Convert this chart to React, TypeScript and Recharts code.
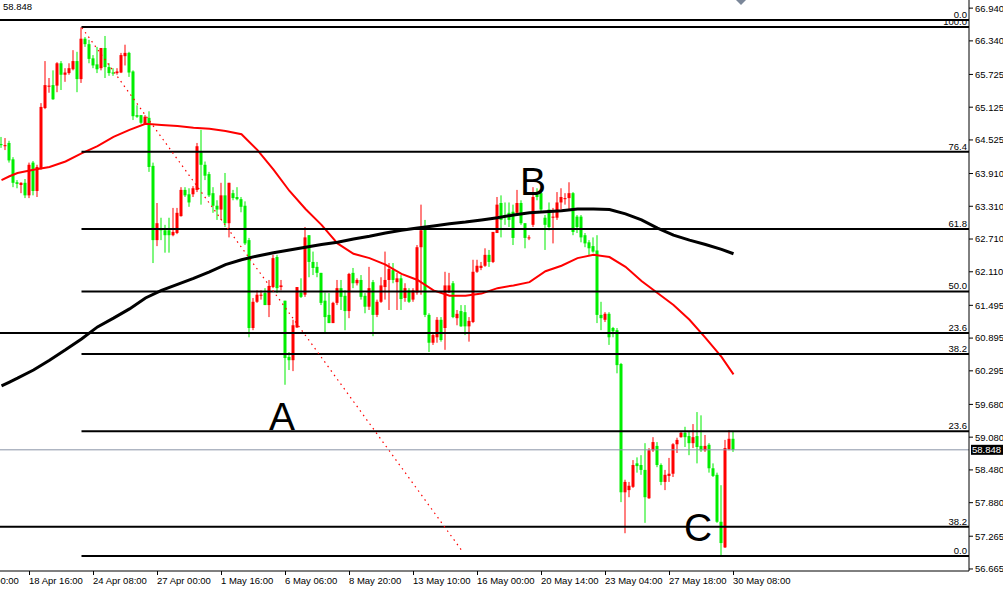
import React from "react";
import { ComposedChart, Bar, Line, XAxis, YAxis, ReferenceLine } from "recharts";

const FONT = "'Liberation Sans', Arial, sans-serif";

// H4 candles, index 0 = first bar on the left edge
const opens = [
  64.45, 64.41, 64.47, 64.17, 63.75, 63.70, 63.74, 63.51, 64.11, 63.59,
  64.01, 65.11, 65.50, 65.53, 65.52, 65.93, 65.72, 65.75, 65.82, 65.97,
  65.64, 66.38, 66.28, 66.02, 65.91, 65.84, 66.21, 65.86, 65.76, 65.75,
  65.76, 66.06, 66.12, 65.78, 64.98, 64.98, 64.82, 64.93, 64.05, 62.69,
  62.91, 62.87, 62.87, 62.78, 62.82, 63.13, 63.61, 63.53, 63.53, 63.61,
  64.30, 64.07, 63.90, 63.55, 63.32, 63.25, 63.51, 63.00, 63.55, 63.48,
  63.44, 63.32, 62.69, 61.08, 61.56, 61.67, 61.72, 61.50, 61.83, 62.38,
  61.83, 61.58, 60.55, 60.49, 61.09, 61.73, 61.69, 62.78, 62.29, 62.20,
  62.09, 61.58, 61.32, 61.17, 61.54, 61.81, 61.67, 61.39, 62.09, 61.90,
  61.96, 61.67, 61.47, 61.92, 61.32, 61.56, 61.83, 61.96, 62.14, 61.92,
  61.99, 61.63, 61.77, 61.60, 61.73, 62.56, 62.91, 61.32, 60.81, 60.91,
  61.23, 61.08, 61.73, 61.90, 61.26, 61.39, 61.37, 61.11, 61.19, 62.11,
  62.18, 62.22, 62.42, 62.29, 62.82, 63.37, 63.15, 63.19, 63.21, 63.19,
  63.37, 63.00, 62.73, 62.97, 63.57, 63.55, 63.10, 63.25, 63.10, 63.10,
  63.38, 63.44, 63.46, 63.55, 63.12, 63.12, 62.78, 62.65, 62.58, 62.50,
  61.32, 61.23, 61.34, 61.08, 61.04, 60.42, 58.07, 58.11, 58.17, 58.60,
  58.57, 58.48, 57.96, 58.84, 58.92, 58.57, 58.26, 58.37, 58.41, 58.95,
  59.08, 59.16, 59.10, 58.97, 59.10, 58.92, 58.84, 58.94, 58.51, 58.39,
  57.53, 57.06, 58.86, 59.05,
];
const highs = [
  64.58, 64.56, 64.51, 64.21, 63.79, 63.75, 63.81, 64.11, 64.14, 64.07,
  65.20, 65.97, 65.66, 65.80, 65.95, 65.97, 65.84, 65.93, 66.17, 66.14,
  66.59, 66.41, 66.36, 66.08, 66.23, 66.21, 66.43, 65.93, 65.84, 65.84,
  66.12, 66.27, 66.14, 65.80, 65.16, 64.98, 64.98, 65.05, 64.11, 63.37,
  63.10, 62.97, 63.10, 63.28, 63.28, 63.66, 63.66, 63.64, 63.68, 64.47,
  64.71, 64.13, 63.94, 63.66, 63.42, 63.74, 63.92, 63.74, 63.61, 63.66,
  63.48, 63.40, 62.73, 61.63, 61.77, 61.77, 61.81, 61.96, 62.42, 62.42,
  61.96, 61.58, 60.64, 61.23, 61.83, 61.99, 62.93, 62.78, 62.48, 62.29,
  62.09, 61.73, 61.72, 61.56, 61.96, 61.96, 61.77, 62.09, 62.18, 61.99,
  62.05, 61.72, 62.20, 61.96, 61.60, 62.01, 62.48, 62.27, 62.27, 62.09,
  62.05, 61.90, 61.81, 61.81, 62.60, 63.34, 63.06, 61.35, 60.98, 61.28,
  61.28, 62.11, 62.09, 61.94, 61.41, 61.50, 61.50, 61.28, 62.33, 62.33,
  62.29, 62.54, 62.51, 62.84, 63.48, 63.51, 63.38, 63.38, 63.34, 63.61,
  63.42, 63.00, 62.78, 63.66, 63.64, 63.61, 63.15, 63.38, 63.28, 63.57,
  63.64, 63.55, 63.75, 63.57, 63.15, 63.15, 62.82, 62.69, 62.74, 62.78,
  61.56, 61.37, 61.37, 61.10, 61.08, 60.44, 58.30, 58.26, 58.66, 58.71,
  58.75, 58.97, 58.88, 59.08, 58.99, 58.60, 58.48, 58.70, 58.97, 59.07,
  59.18, 59.27, 59.18, 59.32, 59.54, 59.48, 59.12, 58.97, 58.60, 58.43,
  58.20, 59.03, 59.21, 59.18,
];
const lows = [
  64.38, 64.34, 64.11, 63.66, 63.64, 63.55, 63.46, 63.46, 63.51, 63.48,
  63.98, 65.09, 65.39, 65.26, 65.40, 65.44, 65.59, 65.72, 65.80, 65.40,
  65.57, 66.23, 65.93, 65.84, 65.75, 65.80, 65.66, 65.70, 65.70, 65.72,
  65.75, 65.89, 65.68, 64.89, 64.93, 64.82, 64.80, 63.94, 62.27, 62.58,
  62.69, 62.46, 62.46, 62.76, 62.80, 63.12, 63.48, 63.30, 63.48, 63.57,
  63.34, 63.79, 63.48, 63.19, 63.06, 63.06, 62.93, 62.74, 63.42, 63.42,
  63.20, 62.60, 60.91, 61.04, 61.54, 61.60, 61.50, 61.28, 61.81, 61.72,
  61.77, 60.04, 60.31, 60.29, 61.08, 61.63, 61.65, 62.01, 62.05, 62.01,
  61.50, 61.00, 61.17, 61.17, 61.50, 61.41, 61.04, 61.26, 61.81, 61.86,
  61.60, 61.35, 61.41, 60.93, 61.28, 61.54, 61.60, 61.41, 61.90, 61.41,
  61.41, 61.56, 61.54, 61.56, 61.69, 61.69, 61.28, 60.64, 60.77, 60.81,
  60.83, 60.68, 61.72, 61.26, 61.13, 61.10, 60.95, 60.83, 61.17, 62.09,
  62.14, 62.20, 62.20, 62.27, 62.82, 62.74, 62.97, 62.93, 62.60, 63.19,
  62.97, 62.54, 62.69, 62.93, 63.42, 63.19, 62.51, 62.87, 62.63, 63.06,
  63.25, 63.34, 63.25, 62.78, 62.82, 62.65, 62.56, 62.42, 62.46, 61.17,
  61.04, 61.19, 60.77, 60.91, 60.25, 57.89, 57.32, 57.98, 58.15, 58.43,
  58.39, 57.51, 57.95, 58.81, 58.53, 58.20, 58.11, 58.26, 58.35, 58.79,
  59.07, 58.90, 58.75, 58.88, 58.60, 58.81, 58.81, 58.43, 58.35, 57.51,
  56.89, 57.05, 58.84, 58.81,
];
const closes = [
  64.43, 64.43, 64.15, 63.74, 63.72, 63.74, 63.51, 64.07, 63.59, 64.03,
  65.13, 65.53, 65.52, 65.27, 65.93, 65.72, 65.76, 65.84, 65.97, 65.64,
  66.38, 66.28, 66.01, 65.89, 65.82, 66.21, 65.86, 65.75, 65.75, 65.78,
  66.08, 66.12, 65.76, 64.96, 64.95, 64.84, 64.95, 64.03, 62.69, 63.00,
  62.87, 62.78, 62.78, 62.84, 63.19, 63.61, 63.51, 63.38, 63.64, 64.41,
  64.07, 63.87, 63.51, 63.32, 63.25, 63.51, 63.00, 63.74, 63.46, 63.44,
  63.30, 62.63, 61.08, 61.56, 61.69, 61.69, 61.50, 61.85, 62.36, 61.81,
  61.86, 60.53, 60.49, 61.13, 61.83, 61.65, 62.74, 62.29, 62.18, 62.09,
  61.54, 61.28, 61.17, 61.54, 61.81, 61.65, 61.39, 62.07, 61.90, 61.96,
  61.65, 61.47, 61.81, 61.32, 61.56, 61.86, 61.96, 62.16, 61.96, 61.99,
  61.61, 61.81, 61.56, 61.77, 62.56, 62.87, 61.32, 60.81, 60.95, 61.23,
  60.86, 61.86, 61.86, 61.28, 61.34, 61.11, 61.11, 61.21, 62.11, 62.22,
  62.22, 62.42, 62.29, 62.84, 63.34, 63.06, 63.12, 63.06, 62.73, 63.37,
  63.00, 62.73, 62.74, 63.48, 63.48, 63.25, 62.97, 62.93, 63.12, 63.38,
  63.48, 63.46, 63.55, 62.84, 62.93, 62.74, 62.63, 62.54, 62.48, 61.32,
  61.26, 61.34, 60.91, 61.02, 60.40, 58.07, 58.26, 58.19, 58.57, 58.55,
  58.48, 57.98, 58.84, 58.99, 58.57, 58.26, 58.39, 58.41, 58.95, 59.03,
  59.16, 59.08, 58.97, 59.08, 58.90, 58.84, 58.92, 58.51, 58.37, 57.53,
  57.14, 58.88, 59.05, 58.848,
];

// moving averages, read every 4th bar
const maBars = [
  0, 2, 4, 8, 12, 16, 20, 24, 28, 32, 36, 40, 44, 48, 52, 56, 60, 64, 68, 72,
  76, 80, 84, 88, 92, 96, 100, 104, 108, 112, 116, 120, 124, 128, 132, 136,
  140, 144, 148, 152, 156, 160, 164, 168, 172, 176, 180, 183,
];
const maFast = [
  63.79, 63.86, 63.92, 63.98, 64.03, 64.13, 64.28, 64.41, 64.58, 64.71, 64.82,
  64.80, 64.78, 64.75, 64.73, 64.69, 64.63, 64.34, 63.98, 63.59, 63.26, 62.97,
  62.63, 62.44, 62.36, 62.24, 62.07, 61.96, 61.77, 61.67, 61.67, 61.71, 61.81,
  61.86, 61.92, 62.12, 62.22, 62.36, 62.42, 62.38, 62.20, 61.94, 61.72, 61.50,
  61.23, 60.90, 60.55, 60.23,
];
const maSlow = [
  60.02, 60.09, 60.16, 60.31, 60.49, 60.68, 60.88, 61.10, 61.26, 61.43, 61.63,
  61.77, 61.88, 61.99, 62.11, 62.24, 62.33, 62.40, 62.46, 62.51, 62.56, 62.61,
  62.65, 62.71, 62.76, 62.82, 62.87, 62.91, 62.95, 62.99, 63.02, 63.06, 63.10,
  63.15, 63.19, 63.21, 63.23, 63.26, 63.26, 63.25, 63.17, 63.06, 62.91, 62.78,
  62.69, 62.61, 62.52, 62.44,
];

const priceTicks = [
  56.665, 57.265, 57.88, 58.48, 59.08, 59.68, 60.295, 60.895, 61.495, 62.11,
  62.71, 63.31, 63.91, 64.525, 65.125, 65.725, 66.34, 66.94,
];
const timeTicks = [-9, 7, 23, 39, 55, 71, 87, 103, 119, 135, 151, 167, 183];
const timeLabels = [
  "16 Apr 00:00", "18 Apr 16:00", "24 Apr 08:00", "27 Apr 00:00", "1 May 16:00",
  "6 May 06:00", "8 May 20:00", "13 May 10:00", "16 May 00:00", "20 May 14:00",
  "23 May 04:00", "27 May 18:00", "30 May 08:00",
];

// fibo from the April high (starts at bar 20)
const fibMainLabels = ["100.0", "76.4", "61.8", "50.0", "38.2", "23.6", "0.0"];
const fibMainLevels = [66.594, 64.307, 62.892, 61.749, 60.605, 59.19, 56.903];
const fibMainStart = 20;
// older fibo, runs across the whole chart
const fibOldLabels = ["0.0", "23.6", "38.2"];
const fibOldLevels = [66.723, 60.989, 57.44];

const trendFrom = { x: 20.1, y: 66.58 };
const trendTo = { x: 115.1, y: 57.0 };
const lastPrice = 58.848;

const rows: any[] = opens.map((o, i) => ({ k: i, o, h: highs[i], l: lows[i], c: closes[i] }));
maBars.forEach((k, j) => {
  rows[k].fast = maFast[j];
  rows[k].slow = maSlow[j];
});

function Candle(props: any) {
  const { x, y, width, height, payload } = props;
  if (!payload || !Number.isFinite(x) || !Number.isFinite(y)) return null;
  const { o, h, l, c } = payload;
  const top = Math.min(y, y + height);
  const span = Math.abs(height);
  const ppu = h > l ? span / (h - l) : 0;
  const cx = x + width / 2;
  const bodyTop = top + (h - Math.max(o, c)) * ppu;
  const bodyH = Math.max(1, Math.abs(o - c) * ppu);
  const col = c > o ? "#ff0000" : "#00ee00";
  return (
    <g>
      <rect x={cx - 0.5} y={top} width={1} height={Math.max(1, span)} fill={col} />
      <rect x={cx - 1.5} y={bodyTop} width={3} height={bodyH} fill={col} />
    </g>
  );
}

function TimeTick(props: any) {
  const { x, y, payload } = props;
  const i = timeTicks.indexOf(payload.value);
  if (i < 0) return null;
  return (
    <text x={x - 0.5} y={y + 7} fontSize={9.5} fontFamily={FONT} fill="#000" textAnchor="start">
      {timeLabels[i]}
    </text>
  );
}

function PriceTag(props: any) {
  const vb = props.viewBox;
  if (!vb) return null;
  const x = vb.x + vb.width;
  const y = vb.y;
  return (
    <g>
      <rect x={x + 2} y={y - 5} width={33} height={10} fill="#000" />
      <text x={x + 3} y={y + 3.5} fill="#fff" fontSize={9.5} fontFamily={FONT}>
        {lastPrice.toFixed(3)}
      </text>
    </g>
  );
}

const fibLabel = (text: string) => ({
  value: text,
  position: "insideBottomRight" as const,
  offset: 2,
  fill: "#000",
  fontSize: 9.5,
  fontFamily: FONT,
});

const bigLetter: React.CSSProperties = {
  position: "absolute",
  fontFamily: FONT,
  fontSize: 39,
  lineHeight: "39px",
  color: "#000",
};

export default function App() {
  return (
    <div style={{ position: "fixed", left: 0, top: 0, width: 1003, height: 589, background: "#fff" }}>
      <ComposedChart width={1003} height={589} data={rows} margin={{ top: 0, right: 0, bottom: 0, left: 0 }}>
        <XAxis
          dataKey="k"
          type="number"
          domain={[-0.375, 241.875]}
          allowDataOverflow
          ticks={timeTicks}
          interval={0}
          height={18}
          tickSize={4}
          tickLine={{ stroke: "#000" }}
          axisLine={{ stroke: "#000" }}
          tick={<TimeTick />}
        />
        <YAxis
          orientation="right"
          width={34}
          domain={[56.628, 67.089]}
          allowDataOverflow
          ticks={priceTicks}
          interval={0}
          tickSize={4}
          tickMargin={2}
          tickLine={{ stroke: "#000" }}
          axisLine={{ stroke: "#000" }}
          tick={{ fill: "#000", fontSize: 9.5, fontFamily: FONT }}
          tickFormatter={(v: number) => v.toFixed(3)}
        />
        <Bar dataKey={(d: any) => [d.l, d.h]} barSize={3} shape={(p: any) => <Candle {...p} />} isAnimationActive={false} />
        <Line dataKey="fast" stroke="#ff0000" strokeWidth={2} dot={false} activeDot={false} connectNulls isAnimationActive={false} />
        <Line dataKey="slow" stroke="#000" strokeWidth={3} dot={false} activeDot={false} connectNulls isAnimationActive={false} />
        {fibOldLevels.map((p, i) => (
          <ReferenceLine key={"o" + i} y={p} stroke="#000" strokeWidth={2} label={fibLabel(fibOldLabels[i])} />
        ))}
        {fibMainLevels.map((p, i) => (
          <ReferenceLine
            key={"m" + i}
            segment={[{ x: fibMainStart, y: p }, { x: 241.875, y: p }]}
            stroke="#000"
            strokeWidth={2}
            label={fibLabel(fibMainLabels[i])}
          />
        ))}
        <ReferenceLine
          segment={[trendFrom, trendTo]}
          stroke="#ff0000"
          strokeWidth={1.2}
          strokeDasharray="1.5 4"
        />
        <ReferenceLine y={lastPrice} stroke="#8a94a6" strokeWidth={1} label={<PriceTag />} />
      </ComposedChart>
      <div style={{ position: "absolute", left: 3, top: 1, fontFamily: FONT, fontSize: 9.5, color: "#000" }}>
        {lastPrice.toFixed(3)}
      </div>
      <svg style={{ position: "absolute", left: 736, top: 0 }} width={11} height={6}>
        <polygon points="0,0 10,0 5,5" fill="#7b8799" />
      </svg>
      <div style={{ ...bigLetter, left: 269, top: 397 }}>A</div>
      <div style={{ ...bigLetter, left: 520, top: 162 }}>B</div>
      <div style={{ ...bigLetter, left: 684, top: 508 }}>C</div>
    </div>
  );
}
